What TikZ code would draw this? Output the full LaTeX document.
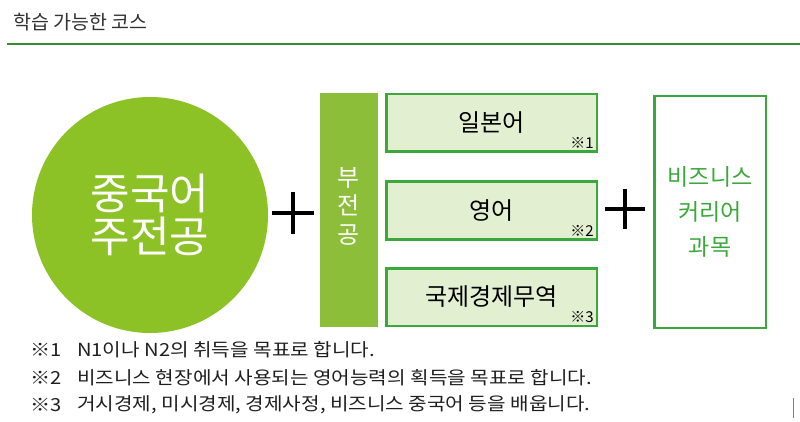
\documentclass[tikz,border=0pt]{standalone}
\usepackage{fontspec}
\setmainfont{Noto Sans CJK KR}
\newfontfamily\widenote[FakeStretch=1.12]{Noto Sans CJK KR}
\usetikzlibrary{positioning}

\definecolor{leaf}{RGB}{141,194,39}
\definecolor{barleaf}{RGB}{140,190,58}
\definecolor{boxline}{RGB}{58,168,58}
\definecolor{boxfill}{RGB}{226,239,208}
\definecolor{rulegreen}{RGB}{52,140,52}
\definecolor{titlegray}{RGB}{50,50,50}

\tikzset{
  mainmajor/.style={circle, fill=leaf, text=white, minimum size=236pt, inner sep=0pt,
    align=center, font=\fontsize{43}{43}\selectfont},
  minorbar/.style={fill=barleaf, minimum width=58pt, minimum height=234pt, inner sep=0pt},
  minorlabel/.style={text=white, inner sep=0pt, align=center, font=\fontsize{24}{28.5}\selectfont},
  subbox/.style={draw=boxline, line width=2.5pt, fill=boxfill, minimum width=210.5pt,
    minimum height=57.5pt, inner sep=0pt, font=\fontsize{24}{28}\selectfont},
  bizbox/.style={draw=boxline, line width=2.5pt, text=boxline, minimum width=111.5pt,
    minimum height=231.5pt, inner sep=0pt, align=center, font=\fontsize{23}{35}\selectfont},
  boxmark/.style={anchor=south east, inner sep=0pt, font=\fontsize{15}{17}\selectfont},
  plusbar/.style={line width=4pt, black},
  notetext/.style={anchor=west, inner sep=0pt, text=black!88, font=\widenote\fontsize{18}{22}\selectfont},
}

\begin{document}
\begin{tikzpicture}[x=1pt, y=-1pt]
    \useasboundingbox (0,0) rectangle (800,422);

    % heading
    \node[anchor=west, inner sep=0pt, text=titlegray, font=\fontsize{19.5}{23}\selectfont] (title) at (13,22) {학습 가능한 코스};
    \draw[rulegreen, line width=1.8pt] (7,44) -- (800,44);

    % major, minor, business
    \node[mainmajor] (major) at (150,215) {중국어\\주전공};
    \draw[plusbar] (293,192) -- (293,234) (272,213) -- (314,213);
    \node[minorbar] (minor) at (349,210) {};
    \node[minorlabel] (minortext) at (349,206) {부\\전\\공};

    \node[subbox] (jp)    at (491.5,123)   {일본어};
    \node[subbox] (en)    at (491.5,210.5) {영어};
    \node[subbox] (trade) at (491.5,297)   {국제경제무역};
    \node[boxmark] (jpmark)    at ([xshift=-4pt,yshift=4pt]jp.south east)    {※1};
    \node[boxmark] (enmark)    at ([xshift=-4pt,yshift=4pt]en.south east)    {※2};
    \node[boxmark] (trademark) at ([xshift=-4pt,yshift=4pt]trade.south east) {※3};

    \draw[plusbar] (625,189) -- (625,229) (605,209) -- (645,209);
    \node[bizbox] (biz) at (710,212) {비즈니스\\커리어\\과목};

    % notes
    \node[notetext] (mark1) at (30,350) {※1};
    \node[notetext] (note1) at (77,350) {N1이나 N2의 취득을 목표로 합니다.};
    \node[notetext] (mark2) at (30,378) {※2};
    \node[notetext] (note2) at (77,378) {비즈니스 현장에서 사용되는 영어능력의 획득을 목표로 합니다.};
    \node[notetext] (mark3) at (30,405) {※3};
    \node[notetext] (note3) at (77,405) {거시경제, 미시경제, 경제사정, 비즈니스 중국어 등을 배웁니다.};

    \draw[gray, line width=1pt] (793,398) -- (793,418);
\end{tikzpicture}
\end{document}
